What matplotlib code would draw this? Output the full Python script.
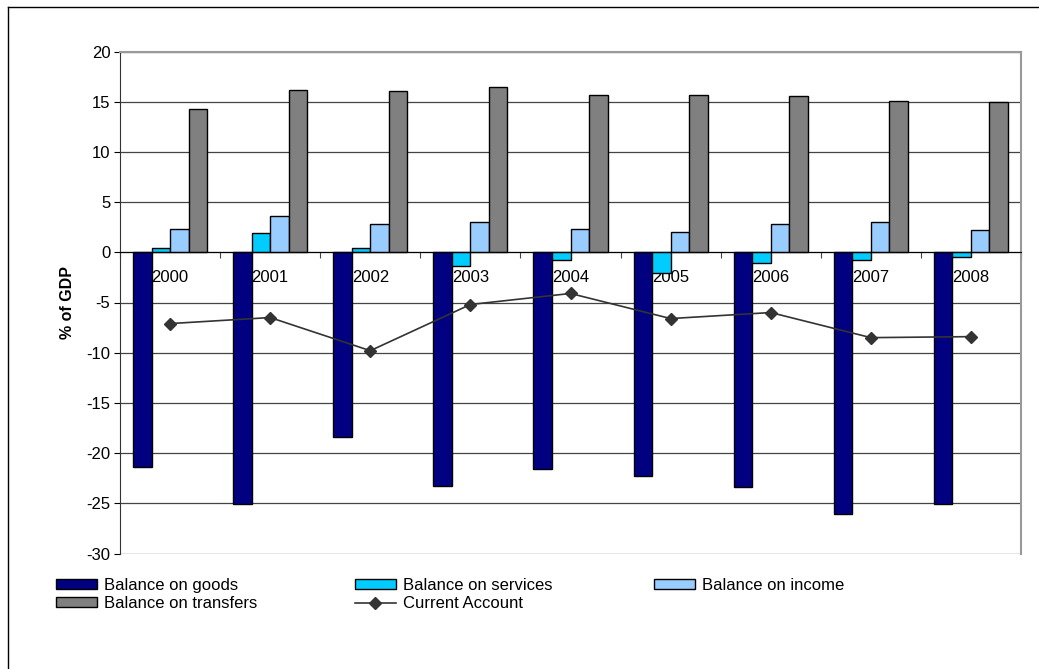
import matplotlib.pyplot as plt
import numpy as np
from matplotlib.lines import Line2D

plt.rcParams['font.family'] = ['Liberation Sans', 'DejaVu Sans']
plt.rcParams['axes.unicode_minus'] = False

years = ["2000", "2001", "2002", "2003", "2004", "2005", "2006", "2007", "2008"]
goods = [-21.4, -25.1, -18.4, -23.3, -21.6, -22.3, -23.4, -26.1, -25.1]
services = [0.45, 1.9, 0.45, -1.4, -0.8, -2.1, -1.1, -0.8, -0.5]
income = [2.3, 3.6, 2.8, 3.0, 2.3, 2.05, 2.8, 3.0, 2.2]
transfers = [14.3, 16.2, 16.05, 16.5, 15.7, 15.7, 15.55, 15.1, 15.0]
current_account = [-7.1, -6.5, -9.8, -5.2, -4.1, -6.6, -6.0, -8.5, -8.4]

series = [
    ("Balance on goods", goods, "#000080"),
    ("Balance on services", services, "#00ccff"),
    ("Balance on income", income, "#99ccff"),
    ("Balance on transfers", transfers, "#808080"),
]

W, H = 1039, 669
fig = plt.figure(figsize=(W / 100, H / 100), dpi=100)
ax = fig.add_axes([120 / W, (H - 553.5) / H, 901 / W, 502 / H])

x = np.arange(len(years))
w = 0.185
handles = {}
for i, (name, vals, col) in enumerate(series):
    b = ax.bar(x + (i - 1.5) * w, vals, w, color=col, edgecolor="black",
               linewidth=1, zorder=3, label=name)
    handles[name] = b

ln, = ax.plot(x, current_account, color="#333333", lw=1.2, marker="D",
              markersize=6, zorder=4, label="Current Account")
handles["Current Account"] = ln

ax.set_xlim(-0.5, len(years) - 0.5)
ax.set_ylim(-30, 20)
ax.set_yticks(range(-30, 21, 5))
ax.grid(axis="y", color="#444444", lw=0.9, zorder=0)

# category axis through zero: ticks on the boundaries, year labels in the middle
ax.spines["bottom"].set_position(("data", 0))
ax.spines["bottom"].set_zorder(5)
ax.set_xticks(np.arange(-0.5, len(years), 1.0))
ax.set_xticklabels([])
ax.set_xticks(x, minor=True)
ax.set_xticklabels(years, minor=True)
ax.tick_params(axis="x", which="major", length=4, direction="out", color="#444444")
ax.tick_params(axis="x", which="minor", length=0, pad=13, labelsize=12)
ax.tick_params(axis="y", length=4, direction="out", labelsize=12, pad=3)

for s in ["top", "right"]:
    ax.spines[s].set_color("#999999")
    ax.spines[s].set_linewidth(1.5)
ax.spines["left"].set_color("#333333")

ax.set_ylabel("% of GDP", fontsize=11.5, fontweight="bold", labelpad=8)

# legend: three equally spaced columns like the original
columns = [["Balance on goods", "Balance on transfers"],
           ["Balance on services", "Current Account"],
           ["Balance on income"]]
col_x = [56, 355, 654]
for names, cx in zip(columns, col_x):
    leg = fig.legend([handles[n] for n in names], names, loc="upper left",
                     bbox_to_anchor=(cx / W, (H - 578) / H), frameon=False,
                     fontsize=12, handlelength=2.45, handleheight=0.55,
                     handletextpad=0.42, labelspacing=0.2,
                     borderpad=0, borderaxespad=0)

# outer chart frame (only top and left edges are visible)
fig.add_artist(Line2D([8 / W, 1], [1 - 7 / H, 1 - 7 / H], transform=fig.transFigure,
                      color="black", lw=1))
fig.add_artist(Line2D([8 / W, 8 / W], [0, 1 - 7 / H], transform=fig.transFigure,
                      color="black", lw=1))

fig.savefig("out.png", dpi=100)
